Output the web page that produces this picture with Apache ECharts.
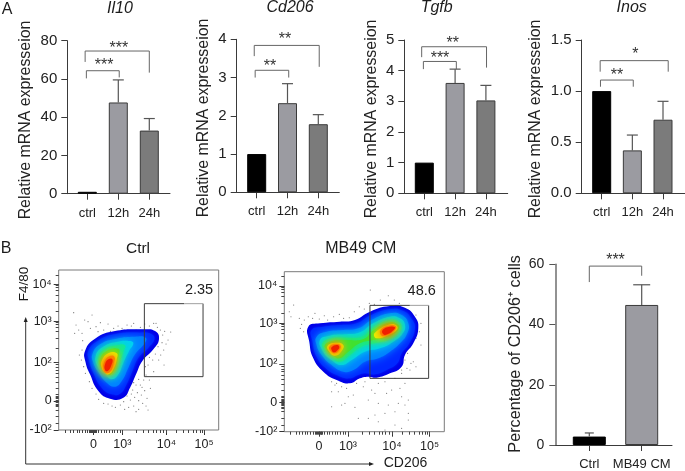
<!DOCTYPE html>
<html><head><meta charset="utf-8">
<style>html,body{margin:0;padding:0;background:#fff}#c{width:685px;height:471px}</style>
<script src="https://cdn.jsdelivr.net/npm/echarts@6/dist/echarts.min.js"></script>
</head><body><div id="c"></div>
<script>
// ---------- bar chart data ----------
const timeLabels = ['ctrl', '12h', '24h'];
const il10Values = [1, 47.7, 33];
const il10Upper = [1, 59.5, 39.3];
const cd206Values = [1, 2.33, 1.78];
const cd206Upper = [1, 2.84, 2.03];
const tgfbValues = [1, 3.6, 3.03];
const tgfbUpper = [1, 4.05, 3.52];
const inosValues = [1, 0.42, 0.72];
const inosUpper = [1, 0.57, 0.9];
const pctLabels = ['Ctrl', 'MB49 CM'];
const pctValues = [2.8, 46.5];
const pctUpper = [4, 53.2];
// brackets: x1, x2, left foot, top, right foot, stars, star x, star y
const il10Brackets = [[-0.07, 2, 68.9, 74.6, 63.3, '***', 1.02, 77.8], [-0.03, 1.03, 60.3, 64.3, 60.8, '***', 0.54, 69]];
const cd206Brackets = [[-0.08, 2.03, 3.56, 3.84, 3.28, '**', 0.92, 4.09], [-0.05, 1.04, 3, 3.19, 3, '**', 0.43, 3.38]];
const tgfbBrackets = [[-0.085, 2.02, 4.44, 4.78, 4.1, '**', 0.92, 5], [-0.03, 1.04, 4.05, 4.3, 4.05, '***', 0.51, 4.51]];
const inosBrackets = [[-0.05, 2.17, 1.19, 1.298, 1.19, '*', 1.1, 1.4], [-0.04, 1.03, 1.043, 1.108, 1.043, '**', 0.5, 1.187]];
const pctBrackets = [[0, 1, 54.1, 59.4, 56.2, '***', 0.5, 62.5]];
// ---------- flow cytometry data (display channels 0-480) ----------
const flowTickValues = [104, 191, 323, 436];
const flowTickLabels = ['0', '10³', '10⁴', '10⁵'];
const flowYTickValues = [0, 87, 203, 325, 437];
const flowYTickLabels = ['-10²', '0', '10²', '10³', '10⁴'];
const flowMinorX = [19,35,45,55,62,70,79,86,92,96,99,102,104,106,108,110,112,114,120,128,136,144,152,160,168,176,184,191,234,254,269,284,294,304,314,323,354,374,389,404,414,424,430,436];
const flowMinorY = [20,40,60,70,74,78,82,85,87,90,94,98,102,106,125,143,158,170,180,188,196,203,245,275,295,308,316,322,325,355,385,405,418,428,433,437,465];
const gateBox = [257, 160, 433, 379];
const levelColors = ['#0000e8', '#0028ff', '#0080ff', '#00d0f0', '#10e8a0', '#40e030', '#e8f000', '#ff9000', '#f02000'];
const ctrlContours = [
 [0, [[79,237],[109,274],[169,297],[254,302],[289,297],[301,274],[284,242],[251,207],[234,172],[214,127],[194,97],[154,94],[119,117],[94,167],[81,202]]],
 [1, [[89,237],[117,267],[169,287],[244,292],[279,287],[287,272],[269,247],[239,217],[221,177],[201,132],[184,109],[159,107],[129,127],[104,172],[92,207]]],
 [2, [[101,227],[124,257],[174,274],[229,280],[261,277],[259,262],[229,227],[209,187],[189,147],[169,130],[144,142],[117,177],[104,202]]],
 [3, [[111,222],[134,250],[174,264],[214,267],[224,260],[211,237],[194,202],[179,167],[159,152],[139,167],[119,187]]],
 [4, [[119,217],[139,242],[174,254],[199,254],[194,234],[179,197],[164,167],[149,167],[127,187]]],
 [5, [[124,212],[144,237],[179,244],[181,227],[171,192],[157,167],[144,170],[127,190]]],
 [6, [[129,207],[149,230],[174,230],[174,212],[164,182],[149,167],[139,172],[129,187]]],
 [7, [[136,202],[149,220],[167,220],[164,197],[154,174],[139,172],[134,187]]],
 [8, [[139,197],[149,212],[161,212],[157,192],[147,177],[139,180]]]
];
const cmContours = [
 [0, [[72,315],[107,325],[167,330],[212,335],[257,360],[317,377],[362,372],[392,345],[402,310],[387,265],[362,230],[352,195],[317,175],[277,162],[252,165],[227,160],[197,145],[157,155],[117,180],[87,220],[75,270]]],
 [1, [[82,305],[117,315],[167,320],[217,325],[257,348],[317,367],[357,362],[382,338],[392,310],[375,265],[352,235],[339,205],[307,185],[272,172],[242,175],[222,170],[195,160],[162,168],[127,188],[97,225],[85,270]]],
 [2, [[97,285],[127,300],[177,305],[222,310],[262,335],[317,355],[352,350],[372,325],[369,295],[347,265],[317,240],[282,220],[242,210],[207,185],[177,180],[142,200],[112,230],[97,260]]],
 [3, [[107,275],[137,288],[182,292],[227,298],[267,325],[317,345],[347,340],[362,320],[355,295],[327,270],[287,250],[242,240],[202,215],[172,200],[142,215],[117,240]]],
 [4, [[114,265],[142,280],[182,282],[232,285],[267,312],[317,335],[342,330],[352,315],[342,295],[312,275],[272,265],[232,255],[197,230],[167,210],[142,225],[122,245]]],
 [5, [[122,260],[147,273],[182,275],[237,278],[269,305],[317,328],[339,323],[345,313],[332,295],[302,282],[267,275],[227,265],[192,240],[165,220],[142,232],[127,245]]],
 [6, [[275,300],[317,322],[337,318],[337,305],[307,288],[279,280],[269,288]]],
 [6, [[130,258],[157,267],[177,260],[172,242],[152,228],[135,240]]],
 [7, [[289,305],[317,318],[335,316],[332,305],[309,290],[292,288]]],
 [7, [[135,255],[157,263],[169,258],[165,245],[152,235],[139,242]]],
 [8, [[295,305],[317,315],[332,313],[327,304],[309,292],[297,292]]],
 [8, [[142,253],[157,260],[165,255],[160,245],[149,238],[142,245]]]
];
const ctrlDots = [[45,352],[52,315],[48,290],[60,300],[72,268],[78,330],[88,325],[70,290],[95,305],[100,345],[112,310],[125,322],[118,295],[135,300],[148,318],[155,296],[165,305],[178,312],[190,305],[205,315],[218,312],[232,300],[225,320],[245,308],[258,318],[272,312],[285,320],[296,308],[305,300],[292,320],[318,296],[312,285],[328,270],[336,294],[322,258],[310,262],[315,240],[298,250],[306,225],[290,228],[282,210],[272,218],[260,190],[268,195],[285,175],[300,210],[316,195],[262,165],[272,150],[205,150],[215,158],[225,142],[232,135],[240,152],[250,128],[222,120],[236,112],[248,105],[258,118],[265,95],[228,98],[240,88],[215,90],[205,102],[252,80],[262,72],[225,72],[210,68],[198,62],[185,75],[170,68],[160,72],[148,78],[135,80],[240,62],[268,60],[232,55],[195,85],[218,108],[245,135],[275,125],[255,150],[120,92],[112,108],[70,240],[62,225],[68,210],[75,190],[80,170],[92,145],[100,125]];
const cmDots = [[15,360],[20,345],[28,380],[45,340],[52,322],[60,335],[48,310],[58,300],[72,345],[85,340],[92,355],[105,338],[120,348],[130,335],[148,345],[165,352],[178,340],[195,342],[210,360],[225,375],[240,368],[255,385],[270,382],[288,395],[258,425],[312,408],[330,395],[345,385],[395,350],[410,325],[405,300],[395,280],[410,260],[378,255],[370,235],[362,215],[368,190],[380,205],[395,195],[345,200],[352,185],[142,150],[157,145],[172,135],[187,130],[162,120],[142,120],[207,110],[192,105],[182,85],[142,75],[172,80],[212,73],[222,40],[252,40],[152,140],[217,145],[242,150],[237,135],[262,125],[272,115],[252,95],[282,85],[307,115],[322,125],[347,130],[352,105],[372,95],[342,85],[312,80],[272,50],[302,55],[282,30],[332,60],[362,80],[372,55],[332,20],[352,10],[302,5],[372,35],[282,145],[302,150],[332,160],[362,145],[377,185],[387,210],[352,175]];

// ---------- layout ----------
const FONT = '"Liberation Sans", Arial, sans-serif';
const barColors = ['#000000', '#9b9ba1', '#7b7b7b'];
const barPanels = [
 {cats: timeLabels, vals: il10Values, up: il10Upper, br: il10Brackets, ymax: 80, step: 20, axisX: 67.3, endX: 170, top: 40.7, bottom: 193.7, t0: 87.3, dt: 31, bw: 19, caps: [0, 11, 11], name: 'Relative mRNA expresseion', nameX: 26, nameY: 120, fs: 15, dec: 0},
 {cats: timeLabels, vals: cd206Values, up: cd206Upper, br: cd206Brackets, ymax: 4, step: 1, axisX: 236.7, endX: 339.3, top: 39.3, bottom: 192.3, t0: 256.7, dt: 30.8, bw: 19, caps: [0, 11, 11], name: 'Relative mRNA expresseion', nameX: 204, nameY: 118, fs: 15, dec: 0},
 {cats: timeLabels, vals: tgfbValues, up: tgfbUpper, br: tgfbBrackets, ymax: 5, step: 1, axisX: 404.3, endX: 507.7, top: 40, bottom: 193.3, t0: 424.3, dt: 30.8, bw: 19, caps: [0, 11, 11], name: 'Relative mRNA expresseion', nameX: 371.7, nameY: 119, fs: 15, dec: 0},
 {cats: timeLabels, vals: inosValues, up: inosUpper, br: inosBrackets, ymax: 1.5, step: 0.5, axisX: 581.7, endX: 685, top: 40, bottom: 193.3, t0: 601.7, dt: 30.65, bw: 19, caps: [0, 11, 11], name: 'Relative mRNA expresseion', nameX: 535.7, nameY: 119, fs: 15, dec: 1},
 {cats: pctLabels, vals: pctValues, up: pctUpper, br: pctBrackets, ymax: 60, step: 20, axisX: 555.3, endX: 672, top: 264.3, bottom: 447.3, t0: 589.3, dt: 52.4, bw: 33, caps: [9, 17], name: 'Percentage of CD206⁺ cells', nameX: 516, nameY: 355, fs: 14, dec: 0, heavy: true}
];
const flowPanels = [
 {left: 58.7, top: 270, contours: ctrlContours, dots: ctrlDots},
 {left: 284.3, top: 271.7, contours: cmContours, dots: cmDots}
];

const grid = [], xAxis = [], yAxis = [], series = [];
barPanels.forEach((p) => {
  const g = grid.length;
  grid.push({left: p.axisX, top: p.top, width: p.endX - p.axisX, height: p.bottom - p.top, containLabel: false});
  const ticks = p.cats.map((_, i) => i);
  xAxis.push({gridIndex: g, type: 'value', min: (p.axisX - p.t0) / p.dt, max: (p.endX - p.t0) / p.dt, splitLine: {show: false},
    axisLine: {lineStyle: {color: '#3a3a3a', width: 1}},
    axisTick: {customValues: ticks, length: 6, lineStyle: {color: '#3a3a3a'}},
    axisLabel: {customValues: ticks, formatter: (v) => p.cats[Math.round(v)], margin: 13, fontFamily: FONT, fontSize: 13, color: '#222'}});
  const yc = (p.top + p.bottom) / 2, s = yc - p.nameY;
  yAxis.push({gridIndex: g, type: 'value', min: 0, max: p.ymax, interval: p.step, splitLine: {show: false},
    axisLine: {show: true, onZero: false, lineStyle: {color: p.heavy ? '#777' : '#3a3a3a', width: p.heavy ? 1.6 : 1}},
    axisTick: {show: true, length: 6, lineStyle: {color: p.heavy ? '#555' : '#3a3a3a'}},
    axisLabel: {margin: p.heavy ? 11 : 10, fontFamily: FONT, fontSize: p.fs, color: '#222', formatter: (v) => v.toFixed(p.dec)},
    name: p.name, nameLocation: 'middle', nameRotate: 90, nameGap: p.axisX - p.nameX,
    nameMoveOverlap: false,
    nameTextStyle: {fontFamily: FONT, fontSize: p.heavy ? 16.2 : 15.9, color: '#222', verticalAlign: 'middle',
      padding: s >= 0 ? [0, 0, 0, 2 * s] : [0, -2 * s, 0, 0]}});
  series.push({type: 'bar', xAxisIndex: g, yAxisIndex: g, barWidth: p.bw, z: 2,
    data: p.vals.map((v, i) => ({value: [i, v], itemStyle: {color: barColors[i], borderColor: i === 0 ? '#000' : '#3a3a3a', borderWidth: 1}}))});
  series.push({type: 'custom', xAxisIndex: g, yAxisIndex: g, z: 3, silent: true,
    data: p.vals.map((v, i) => [i, v, p.up[i]]),
    renderItem: (params, api) => {
      const i = api.value(0), a = api.coord([i, api.value(1)]), b = api.coord([i, api.value(2)]);
      const c = p.caps[i];
      if (!c) return null;
      const st = {stroke: '#555', lineWidth: 1.2, fill: 'none'};
      return {type: 'group', children: [
        {type: 'line', shape: {x1: a[0], y1: a[1], x2: b[0], y2: b[1]}, style: st},
        {type: 'line', shape: {x1: b[0] - c / 2, y1: b[1], x2: b[0] + c / 2, y2: b[1]}, style: st}
      ]};
    }});
  series.push({type: 'custom', xAxisIndex: g, yAxisIndex: g, z: 4, silent: true, clip: false,
    data: p.br.map((b, i) => [i, b[3]]),
    renderItem: (params, api) => {
      const b = p.br[params.dataIndex];
      const l = api.coord([b[0], b[2]]), tl = api.coord([b[0], b[3]]), tr = api.coord([b[1], b[3]]), r = api.coord([b[1], b[4]]);
      const star = api.coord([b[6], b[7]]);
      return {type: 'group', children: [
        {type: 'polyline', shape: {points: [l, tl, tr, r]}, style: {stroke: '#666', lineWidth: 1, fill: 'none'}},
        {type: 'text', x: star[0], y: star[1] + 4, style: {text: b[5], fontFamily: FONT, fontSize: 16, fill: '#333', align: 'center', verticalAlign: 'middle'}}
      ]};
    }});
});

flowPanels.forEach((p) => {
  const g = grid.length;
  grid.push({show: true, left: p.left, top: p.top, width: 160, height: 160, borderColor: '#7a7a7a', borderWidth: 1, backgroundColor: '#fff', containLabel: false});
  const xi = xAxis.length, yi = yAxis.length;
  xAxis.push({gridIndex: g, type: 'value', min: 0, max: 480, splitLine: {show: false}, axisLine: {show: false},
    axisTick: {customValues: flowTickValues, length: 5, lineStyle: {color: '#333'}},
    axisLabel: {customValues: flowTickValues, formatter: (v) => flowTickLabels[flowTickValues.indexOf(v)], margin: 8, fontFamily: FONT, fontSize: 12.5, color: '#222'}});
  xAxis.push({gridIndex: g, type: 'value', min: 0, max: 480, position: 'bottom', splitLine: {show: false}, axisLine: {show: false},
    axisTick: {customValues: flowMinorX, length: 3, lineStyle: {color: '#444'}}, axisLabel: {show: false}});
  yAxis.push({gridIndex: g, type: 'value', min: 0, max: 480, splitLine: {show: false}, axisLine: {show: false},
    axisTick: {show: true, customValues: flowYTickValues, length: 5, lineStyle: {color: '#333'}},
    axisLabel: {customValues: flowYTickValues, formatter: (v) => flowYTickLabels[flowYTickValues.indexOf(v)], margin: 7, fontFamily: FONT, fontSize: 12.5, color: '#222'}});
  yAxis.push({gridIndex: g, type: 'value', min: 0, max: 480, position: 'left', splitLine: {show: false}, axisLine: {show: false},
    axisTick: {show: true, customValues: flowMinorY, length: 3, lineStyle: {color: '#444'}}, axisLabel: {show: false}});
  series.push({type: 'scatter', xAxisIndex: xi, yAxisIndex: yi, z: 2, symbolSize: 1.1, silent: true, itemStyle: {color: '#444'}, data: p.dots});
  series.push({type: 'custom', xAxisIndex: xi, yAxisIndex: yi, z: 3, silent: true, clip: true,
    data: p.contours.map((c, i) => [i, i]),
    renderItem: (params, api) => {
      const c = p.contours[params.dataIndex], col = levelColors[c[0]];
      const blur = c[0] === 0 ? 0 : (c[0] === 1 ? 3 : 8);
      return {type: 'polygon', shape: {points: c[1].map((q) => api.coord(q)), smooth: 0.5},
        style: blur ? {fill: col, shadowBlur: blur, shadowColor: col} : {fill: col}};
    }});
  series.push({type: 'custom', xAxisIndex: xi, yAxisIndex: yi, z: 4, silent: true,
    data: [gateBox],
    renderItem: (params, api) => {
      const a = api.coord([api.value(0), api.value(1)]), b = api.coord([api.value(2), api.value(3)]);
      const mid = a[0] + (b[0] - a[0]) * 0.68;
      return {type: 'group', children: [
        {type: 'polyline', shape: {points: [[mid, b[1]], [a[0], b[1]], [a[0], a[1]], [b[0], a[1]], [b[0], b[1]]]}, style: {fill: 'none', stroke: '#3c3c3c', lineWidth: 1}},
        {type: 'line', shape: {x1: mid, y1: b[1], x2: b[0], y2: b[1]}, style: {stroke: '#a0a0a0', lineWidth: 1}}
      ]};
    }});
});

const txt = (text, x, y, size, extra) => ({type: 'text', x, y, z: 10, silent: true, ...(extra || {}),
  style: {text, fontFamily: FONT, fontSize: size, fill: '#1c1c1c', align: 'center', verticalAlign: 'middle', ...((extra && extra.style) || {})}});
const graphic = [
  txt('A', 7, 10, 16), txt('B', 6, 249, 16),
  txt('Il10', 120, 9, 16, {style: {fontStyle: 'italic'}}),
  txt('Cd206', 290, 8, 16, {style: {fontStyle: 'italic'}}),
  txt('Tgfb', 436.7, 8, 16, {style: {fontStyle: 'italic'}}),
  txt('Inos', 631.7, 8, 16, {style: {fontStyle: 'italic'}}),
  txt('Ctrl', 138, 249, 15.5), txt('MB49 CM', 360.7, 249, 16),
  txt('2.35', 199, 290, 14.5), txt('48.6', 421.7, 291, 14.5),
  txt('F4/80', 24, 284, 13.5, {rotation: Math.PI / 2}),
  txt('CD206', 405.5, 462.7, 14),
  {type: 'polyline', z: 9, silent: true, shape: {points: [[25.7, 320], [25.7, 464], [371, 464]]}, style: {stroke: '#333', lineWidth: 1, fill: 'none'}},
  {type: 'polygon', z: 9, silent: true, shape: {points: [[25.7, 317], [23.7, 322], [27.7, 322]]}, style: {fill: '#222'}},
  {type: 'polygon', z: 9, silent: true, shape: {points: [[374, 464], [369, 462], [369, 466]]}, style: {fill: '#222'}}
];

const chart = echarts.init(document.getElementById('c'), null, {renderer: 'canvas'});
chart.setOption({animation: false, backgroundColor: '#fff', tooltip: {show: false}, grid, xAxis, yAxis, series, graphic});
</script></body></html>
